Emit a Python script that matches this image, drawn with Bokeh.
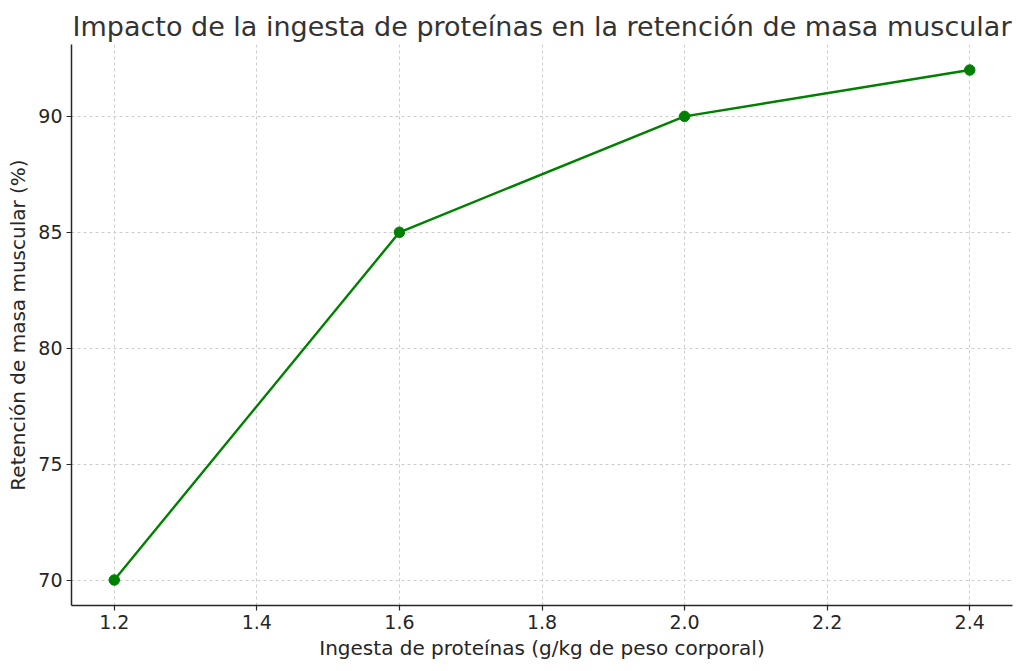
from bokeh.plotting import figure
from bokeh.models import Range1d, FixedTicker
from bokeh.embed import file_html
from bokeh.resources import INLINE

protein_intake = [1.2, 1.6, 2.0, 2.4]
muscle_retention = [70, 85, 90, 92]
x_ticks = [1.2, 1.4, 1.6, 1.8, 2.0, 2.2, 2.4]
y_ticks = [70, 75, 80, 85, 90]

FONT = "DejaVu Sans"

p = figure(width=1016, height=664, output_backend="svg", toolbar_location=None,
           x_range=Range1d(1.14, 2.46), y_range=Range1d(68.9, 93.1),
           title="Impacto de la ingesta de proteínas en la retención de masa muscular")
p.min_border_left = 71
p.min_border_right = 4
p.min_border_top = 44
p.min_border_bottom = 59
p.outline_line_color = None
p.background_fill_color = "white"
p.border_fill_color = "white"

p.title.align = "center"
p.title.text_font = FONT
p.title.text_font_size = "27px"
p.title.text_font_style = "normal"
p.title.text_color = "#333333"
p.title.standoff = 5

p.line(protein_intake, muscle_retention, line_color="#008000", line_width=2.4)
p.scatter(protein_intake, muscle_retention, size=10.5, fill_color="#008000", line_color="#008000")

for ax in (p.xaxis[0], p.yaxis[0]):
    ax.axis_line_color = "#262626"
    ax.axis_line_width = 1.5
    ax.major_tick_line_color = "#262626"
    ax.major_tick_line_width = 1.2
    ax.major_tick_out = 5
    ax.major_tick_in = 0
    ax.minor_tick_line_color = None
    ax.major_label_text_font = FONT
    ax.major_label_text_font_size = "19px"
    ax.major_label_text_color = "#262626"
    ax.axis_label_text_font = FONT
    ax.axis_label_text_font_size = "20px"
    ax.axis_label_text_font_style = "normal"
    ax.axis_label_text_color = "#262626"

p.xaxis[0].ticker = FixedTicker(ticks=x_ticks)
p.yaxis[0].ticker = FixedTicker(ticks=y_ticks)
p.xaxis[0].major_label_overrides = {t: f"{t:.1f}" for t in x_ticks}
p.xaxis[0].axis_label = "Ingesta de proteínas (g/kg de peso corporal)"
p.yaxis[0].axis_label = "Retención de masa muscular (%)"
p.xaxis[0].major_label_standoff = 4
p.yaxis[0].major_label_standoff = 4
p.xaxis[0].axis_label_standoff = 4
p.yaxis[0].axis_label_standoff = 5

for g in (p.xgrid[0], p.ygrid[0]):
    g.grid_line_color = "#cccccc"
    g.grid_line_dash = "3 3"
    g.grid_line_width = 1

open("out.html", "w").write(file_html(p, INLINE))
